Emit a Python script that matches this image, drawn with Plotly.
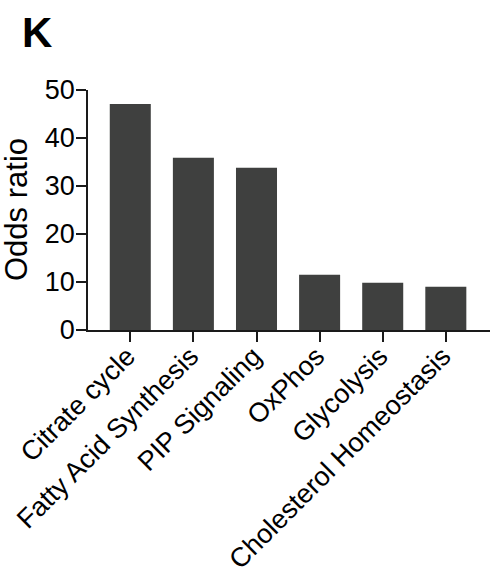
import plotly.graph_objects as go

categories = ["Citrate cycle", "Fatty Acid Synthesis", "PIP Signaling",
              "OxPhos", "Glycolysis", "Cholesterol Homeostasis"]
odds_ratio = [47.1, 35.9, 33.8, 11.5, 9.85, 9.0]
y_ticks = [0, 10, 20, 30, 40, 50]

FONT = "Liberation Sans, Arial, sans-serif"
BAR = "#3f403f"
AX = "#1a1a1a"

L, R, T, B = 88, 0, 90, 251
W, H = 490, 581
PW, PH = W - L - R, H - T - B

def px_x(x):
    return (x - L) / PW

def px_y(y):
    return (H - B - y) / PH

fig = go.Figure(go.Bar(
    x=list(range(len(categories))),
    y=odds_ratio,
    width=0.65,
    marker=dict(color=BAR, line=dict(width=0)),
))

fig.update_layout(
    width=W, height=H,
    margin=dict(l=L, r=R, t=T, b=B, pad=0),
    plot_bgcolor="white", paper_bgcolor="white",
    showlegend=False,
    font=dict(family=FONT, color="black"),
    xaxis=dict(
        range=[-0.67, 5.70],
        tickmode="array",
        tickvals=list(range(len(categories))),
        ticktext=categories,
        tickangle=-45,
        automargin=False,
        ticklabelstandoff=-12,
        ticklabelshift=-3,
        ticks="outside", ticklen=10, tickwidth=1.5, tickcolor=AX,
        showline=True, linecolor=AX, linewidth=1.5,
        showgrid=False, zeroline=False,
        tickfont=dict(size=27, family=FONT, color="black"),
    ),
    yaxis=dict(
        range=[0, 50],
        tickmode="array",
        tickvals=y_ticks,
        automargin=False,
        ticklabelstandoff=-4,
        ticks="outside", ticklen=10, tickwidth=1.5, tickcolor=AX,
        showline=True, linecolor=AX, linewidth=1.5,
        showgrid=False, zeroline=False,
        tickfont=dict(size=27, family=FONT, color="black"),
    ),
    annotations=[
        dict(text="Odds ratio", textangle=-90, xref="paper", yref="paper",
             x=px_x(16), y=0.5, xanchor="center", yanchor="middle",
             showarrow=False, font=dict(size=31, family=FONT, color="black")),
        dict(text="<b>K</b>", xref="paper", yref="paper",
             x=px_x(37), y=px_y(33), xanchor="center", yanchor="middle",
             showarrow=False, font=dict(size=42, family=FONT, color="black")),
    ],
)

fig.write_html(
    "out.html",
    config={"displayModeBar": False},
    post_script="document.body.style.margin='0px';document.body.style.overflow='hidden';",
)
